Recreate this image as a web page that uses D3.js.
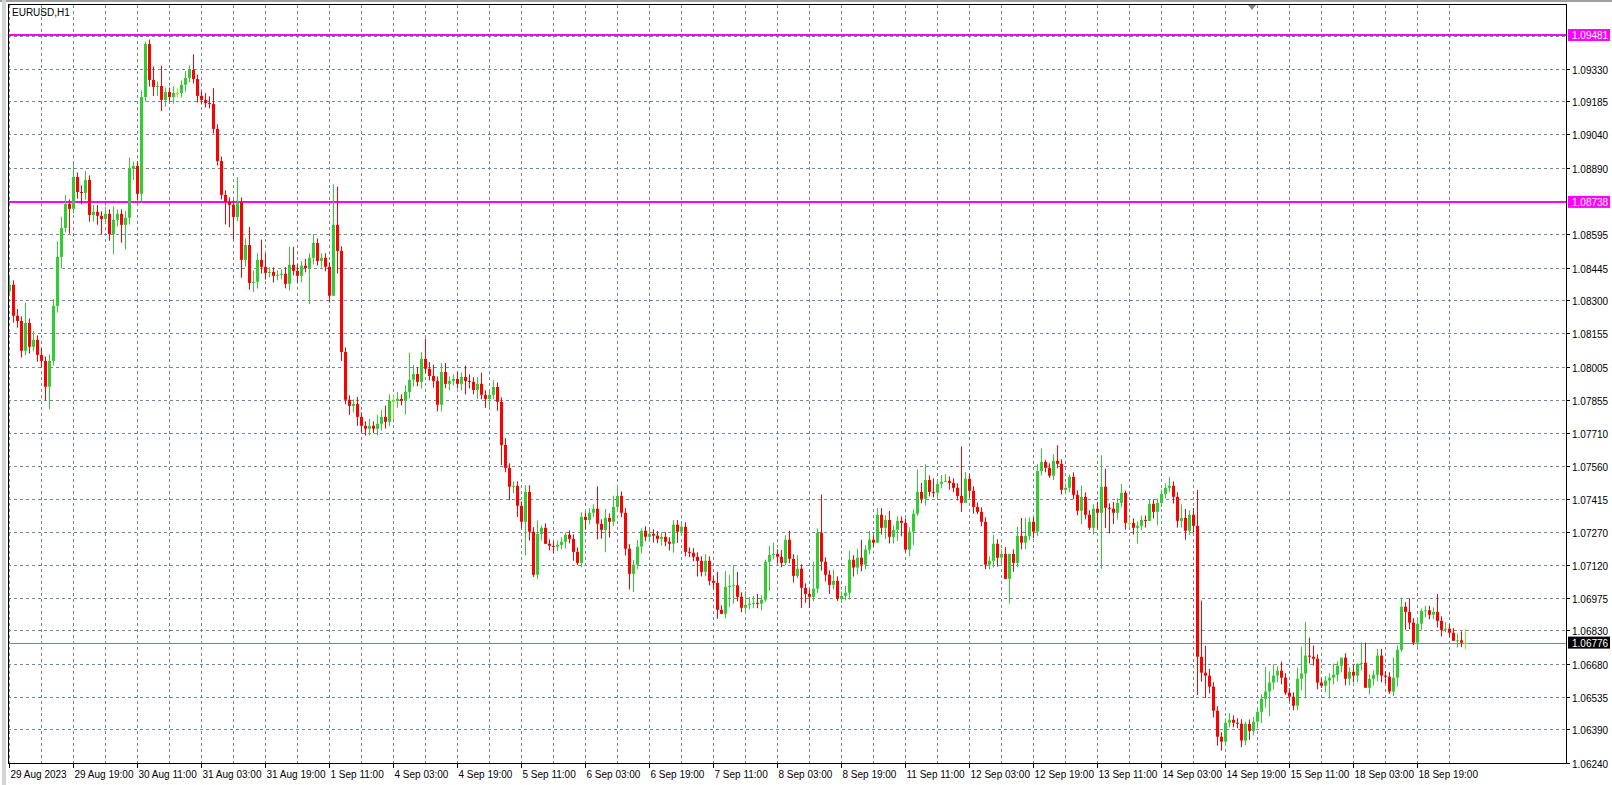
<!DOCTYPE html>
<html>
<head>
<meta charset="utf-8">
<script src="https://cdn.jsdelivr.net/npm/d3@7.9.0/dist/d3.min.js"></script>
<style>
  html, body { margin: 0; padding: 0; background: #fff; }
  svg { display: block; font-family: "Liberation Sans", Arial, sans-serif; }
</style>
</head>
<body>
<svg id="chart" width="1612" height="785"></svg>
<script>
// hourly closes, EURUSD H1, 29 Aug 03:00 .. 19 Sep 07:00
const closes = [
  1.08369,1.08231,1.08208,1.08075,1.08199,1.08093,1.08124,1.08057,1.08030,1.07915,
  1.08030,1.08275,1.08493,1.08622,1.08729,1.08707,1.08849,1.08782,1.08778,1.08836,
  1.08680,1.08694,1.08676,1.08662,1.08685,1.08595,1.08658,1.08685,1.08636,1.08667,
  1.08885,1.08898,1.08774,1.09205,1.09441,1.09281,1.09250,1.09254,1.09192,1.09227,
  1.09205,1.09223,1.09223,1.09259,1.09290,1.09325,1.09285,1.09210,1.09192,1.09178,
  1.09174,1.09063,1.08920,1.08769,1.08738,1.08725,1.08671,1.08738,1.08480,1.08546,
  1.08377,1.08382,1.08480,1.08449,1.08422,1.08426,1.08409,1.08413,1.08418,1.08373,
  1.08458,1.08431,1.08409,1.08454,1.08444,1.08489,1.08555,1.08475,1.08489,1.08449,
  1.08320,1.08636,1.08520,1.08070,1.07857,1.07830,1.07839,1.07781,1.07741,1.07728,
  1.07741,1.07728,1.07750,1.07781,1.07759,1.07852,1.07852,1.07861,1.07852,1.07892,
  1.07946,1.07972,1.07937,1.08039,1.07995,1.07963,1.07941,1.07835,1.07981,1.07928,
  1.07941,1.07950,1.07928,1.07959,1.07941,1.07937,1.07901,1.07928,1.07879,1.07861,
  1.07879,1.07914,1.07848,1.07656,1.07554,1.07470,1.07474,1.07385,1.07314,1.07447,
  1.07270,1.07078,1.07260,1.07287,1.07216,1.07207,1.07203,1.07211,1.07225,1.07256,
  1.07238,1.07180,1.07131,1.07336,1.07322,1.07354,1.07372,1.07305,1.07278,1.07331,
  1.07314,1.07380,1.07429,1.07354,1.07194,1.07082,1.07123,1.07203,1.07274,1.07247,
  1.07260,1.07252,1.07238,1.07247,1.07225,1.07216,1.07301,1.07270,1.07292,1.07180,
  1.07176,1.07158,1.07140,1.07091,1.07140,1.07051,1.07042,1.06922,1.06904,1.07024,
  1.07029,1.07031,1.06980,1.06931,1.06944,1.06949,1.06953,1.06949,1.06967,1.07136,
  1.07167,1.07171,1.07158,1.07131,1.07234,1.07149,1.07073,1.07105,1.07020,1.06993,
  1.06980,1.07016,1.07265,1.07136,1.07078,1.07033,1.07051,1.06971,1.06984,1.06998,
  1.07145,1.07110,1.07154,1.07123,1.07190,1.07234,1.07221,1.07345,1.07287,1.07322,
  1.07247,1.07278,1.07318,1.07309,1.07190,1.07270,1.07350,1.07447,1.07416,1.07500,
  1.07447,1.07443,1.07483,1.07492,1.07496,1.07487,1.07465,1.07429,1.07398,1.07505,
  1.07452,1.07380,1.07358,1.07314,1.07123,1.07140,1.07216,1.07154,1.07171,1.07060,
  1.07171,1.07131,1.07251,1.07221,1.07251,1.07314,1.07270,1.07540,1.07580,1.07554,
  1.07519,1.07585,1.07572,1.07456,1.07465,1.07514,1.07434,1.07363,1.07425,1.07345,
  1.07287,1.07372,1.07354,1.07470,1.07376,1.07372,1.07354,1.07398,1.07443,1.07309,
  1.07309,1.07287,1.07296,1.07322,1.07318,1.07394,1.07358,1.07398,1.07438,1.07465,
  1.07474,1.07425,1.07318,1.07331,1.07274,1.07345,1.07296,1.06713,1.06642,1.06629,
  1.06580,1.06473,1.06357,1.06335,1.06419,1.06432,1.06419,1.06415,1.06340,1.06414,
  1.06383,1.06424,1.06468,1.06526,1.06558,1.06598,1.06629,1.06651,1.06620,1.06553,
  1.06535,1.06495,1.06615,1.06638,1.06718,1.06713,1.06704,1.06598,1.06584,1.06607,
  1.06620,1.06633,1.06673,1.06709,1.06615,1.06646,1.06629,1.06682,1.06686,1.06575,
  1.06615,1.06633,1.06718,1.06629,1.06624,1.06558,1.06620,1.06744,1.06936,1.06913,
  1.06865,1.06776,1.06860,1.06918,1.06920,1.06900,1.06913,1.06873,1.06833,1.06838,
  1.06820,1.06784,1.06786,1.06776,1.06776
];
const firstOpen = 1.08340;

// upper / lower shadow length in pips
const wickUp = [
  3,2,3,2,9,2,4,2,3,2, 3,3,7,5,4,2,6,2,3,4, 2,3,3,2,3,2,6,2,2,3, 5,2,2,3,1,2,6,2,9,2,
  2,3,2,2,3,2,7,2,2,3, 3,7,2,2,2,2,2,11,2,3, 8,5,3,9,6,2,2,2,2,3, 8,8,3,2,3,2,4,2,2,2,
  2,18,17,2,2,2,2,3,2,2, 3,2,4,3,5,3,2,3,2,3, 12,4,3,3,9,3,5,2,4,4, 2,2,3,2,5,3,2,3,5,2,
  2,3,2,2,3,2,2,2,2,3, 3,2,6,1,2,2,2,2,2,1, 2,2,2,2,2,2,2,10,2,4, 2,5,5,2,2,2,2,3,1,2,
  2,2,2,2,2,2,2,2,2,2, 2,2,2,2,3,2,2,5,2,7, 5,9,6,2,6,3,3,4,2,1, 4,5,2,3,2,4,2,6,2,2,
  2,12,2,17,2,2,5,2,2,3, 4,2,4,8,2,4,2,3,3,2, 4,2,2,2,2,2,2,10,4,7, 2,6,2,3,3,2,2,2,22,3,
  2,2,2,2,2,2,4,2,2,3, 0,2,4,8,8,2,2,3,6,1, 2,3,7,2,2,1,2,2,5,2, 2,2,3,14,8,2,3,2,4,1,
  2,2,2,2,2,2,2,2,2,2, 4,2,2,6,4,2,3,16,25,12, 3,2,2,2,2,3,2,2,2,1, 2,2,1,2,11,5,5,2,4,2,
  2,2,5,12,15,8,5,2,2,2, 2,5,2,0,2,2,3,0,9,9, 2,2,3,3,2,2,9,2,4,2, 6,2,2,1,2,2,2,8,2,3,
  2,2,3,4,6
];
const wickDn = [
  2,3,3,3,2,3,2,3,3,6, 10,2,3,5,2,11,2,3,5,3, 3,3,4,7,2,3,9,3,8,11, 3,5,3,4,2,3,4,4,5,3,
  2,3,2,2,3,2,2,3,2,2, 2,2,2,2,10,10,10,2,8,3, 3,4,3,3,3,2,3,2,2,2, 3,2,3,3,2,16,3,2,3,2,
  3,0,10,4,2,4,3,4,3,3, 3,2,3,3,3,2,8,3,2,6, 3,3,2,3,2,2,3,3,3,2, 3,2,2,3,6,3,2,4,2,4,
  4,2,4,9,2,6,3,5,3,15, 4,1,2,3,0,2,3,2,2,3, 2,4,1,2,4,2,2,7,4,10, 7,2,2,2,3,7,8,2,3,2,
  2,3,2,3,2,3,4,5,2,2, 2,2,7,2,2,2,3,4,0,2, 9,8,2,2,2,2,2,2,3,1, 13,2,3,2,1,2,3,1,9,4,
  5,2,2,4,3,4,2,1,2,2, 3,4,3,3,2,2,2,0,3,5, 3,3,5,6,1,3,6,1,2,3, 2,2,3,2,0,3,2,2,4,0,
  3,3,1,2,2,2,3,4,3,0, 11,4,2,3,3,2,3,2,2,2, 1,2,2,2,2,2,2,2,6,2, 1,3,7,25,9,11,5,3,2,3,
  2,3,7,2,3,0,3,6,2,2, 2,3,3,3,4,2,3,17,4,10, 3,3,4,4,2,2,2,2,3,2, 4,2,3,5,4,11,3,3,3,1,
  2,2,2,5,11,3,3,3,1,3, 8,3,3,3,3,3,3,3,3,0, 3,3,3,3,3,1,2,4,1,8, 3,1,2,3,3,2,2,3,3,1,
  2,0,3,2,3
];

const priceTicks = [1.09330,1.09185,1.09040,1.08890,1.08595,1.08445,1.08300,1.08155,1.08005,
  1.07855,1.07710,1.07560,1.07415,1.07270,1.07120,1.06975,1.06830,1.06680,1.06535,1.06390,1.06240];
const extraGrid = [1.09477, 1.08743];
const timeLabels = ['29 Aug 2023','29 Aug 19:00','30 Aug 11:00','31 Aug 03:00','31 Aug 19:00',
  '1 Sep 11:00','4 Sep 03:00','4 Sep 19:00','5 Sep 11:00','6 Sep 03:00','6 Sep 19:00',
  '7 Sep 11:00','8 Sep 03:00','8 Sep 19:00','11 Sep 11:00','12 Sep 03:00','12 Sep 19:00',
  '13 Sep 11:00','14 Sep 03:00','14 Sep 19:00','15 Sep 11:00','18 Sep 03:00','18 Sep 19:00'];
const levels = [1.09481, 1.08738];
const lastPrice = 1.06776;

const pip = 0.0001;
const candles = closes.map((c, i) => {
  const o = i === 0 ? firstOpen : closes[i - 1];
  return { i, o, c, h: Math.max(o, c) + wickUp[i] * pip, l: Math.min(o, c) - wickDn[i] * pip };
});

const L = 8, R = 1566, T = 5, B = 763;
const svg = d3.select('#chart');
const x = d3.scaleLinear().domain([0, closes.length - 1]).range([9, 9 + (closes.length - 1) * 4]);
const y = d3.scaleLinear().domain([1.06240, 1.09481]).range([763, 35]);

// window chrome
svg.append('rect').attr('x', 0).attr('y', 0).attr('width', 1612).attr('height', 2).attr('fill', '#a0a0a0');
svg.append('rect').attr('x', 2).attr('y', 0).attr('width', 4).attr('height', 785).attr('fill', '#d4d4d4');

const grid = svg.append('g').attr('stroke', '#778899').attr('stroke-width', 1).attr('stroke-dasharray', '3,3');
d3.range(0, closes.length, 8).forEach(i => {
  grid.append('line').attr('x1', x(i) + 0.5).attr('x2', x(i) + 0.5).attr('y1', T).attr('y2', B);
});
priceTicks.concat(extraGrid).forEach(p => {
  const yy = Math.round(y(p)) + 0.5;
  grid.append('line').attr('x1', L).attr('x2', R).attr('y1', yy).attr('y2', yy);
});

// current price line
svg.append('line').attr('x1', L).attr('x2', R)
  .attr('y1', Math.round(y(lastPrice)) + 0.5).attr('y2', Math.round(y(lastPrice)) + 0.5)
  .attr('stroke', '#778899');

// horizontal levels
levels.forEach(p => {
  svg.append('line').attr('x1', L).attr('x2', R).attr('y1', y(p)).attr('y2', y(p))
    .attr('stroke', '#ff00ff').attr('stroke-width', 2);
});

// candles
const g = svg.append('g');
candles.forEach(d => {
  const up = d.c > d.o, doji = Math.abs(d.c - d.o) < 0.000005;
  const col = doji ? '#7cfc00' : (up ? '#32cd32' : '#ff0000');
  const cx = x(d.i);
  g.append('line').attr('x1', cx + 0.5).attr('x2', cx + 0.5).attr('y1', y(d.h)).attr('y2', y(d.l))
    .attr('stroke', col);
  const top = y(Math.max(d.o, d.c)), bot = y(Math.min(d.o, d.c));
  g.append('rect').attr('x', cx - 1).attr('y', top).attr('width', 3)
    .attr('height', Math.max(1, bot - top)).attr('fill', col);
});

// frame
svg.append('rect').attr('x', L + 0.5).attr('y', T - 0.5).attr('width', R - L).attr('height', B - T + 1)
  .attr('fill', 'none').attr('stroke', '#000');

// price axis
const pa = svg.append('g').attr('font-size', 10).attr('fill', '#000');
priceTicks.forEach(p => {
  const yy = Math.round(y(p)) + 0.5;
  pa.append('line').attr('x1', R).attr('x2', R + 4).attr('y1', yy).attr('y2', yy).attr('stroke', '#000');
  pa.append('text').attr('x', R + 6).attr('y', yy + 4).text(p.toFixed(5));
});
levels.forEach(p => {
  pa.append('rect').attr('x', R + 2).attr('y', y(p) - 6).attr('width', 42).attr('height', 12).attr('fill', '#ff00ff');
  pa.append('text').attr('x', R + 6).attr('y', y(p) + 4).attr('fill', '#fff').text(p.toFixed(5));
});
pa.append('rect').attr('x', R + 2).attr('y', y(lastPrice) - 6).attr('width', 42).attr('height', 12).attr('fill', '#000');
pa.append('text').attr('x', R + 6).attr('y', y(lastPrice) + 4).attr('fill', '#fff').text(lastPrice.toFixed(5));

// time axis
const ta = svg.append('g').attr('font-size', 10).attr('fill', '#000');
timeLabels.forEach((t, k) => {
  const xx = x(k * 16) + 0.5;
  ta.append('line').attr('x1', xx).attr('x2', xx).attr('y1', B).attr('y2', B + 5).attr('stroke', '#000');
  ta.append('text').attr('x', xx + 1).attr('y', 778).text(t);
});

// title and shift marker
svg.append('text').attr('x', 12).attr('y', 16).attr('font-size', 10).text('EURUSD,H1');
svg.append('path').attr('d', 'M1248,5 L1256,5 L1252,10 Z').attr('fill', '#778899');
</script>
</body>
</html>
